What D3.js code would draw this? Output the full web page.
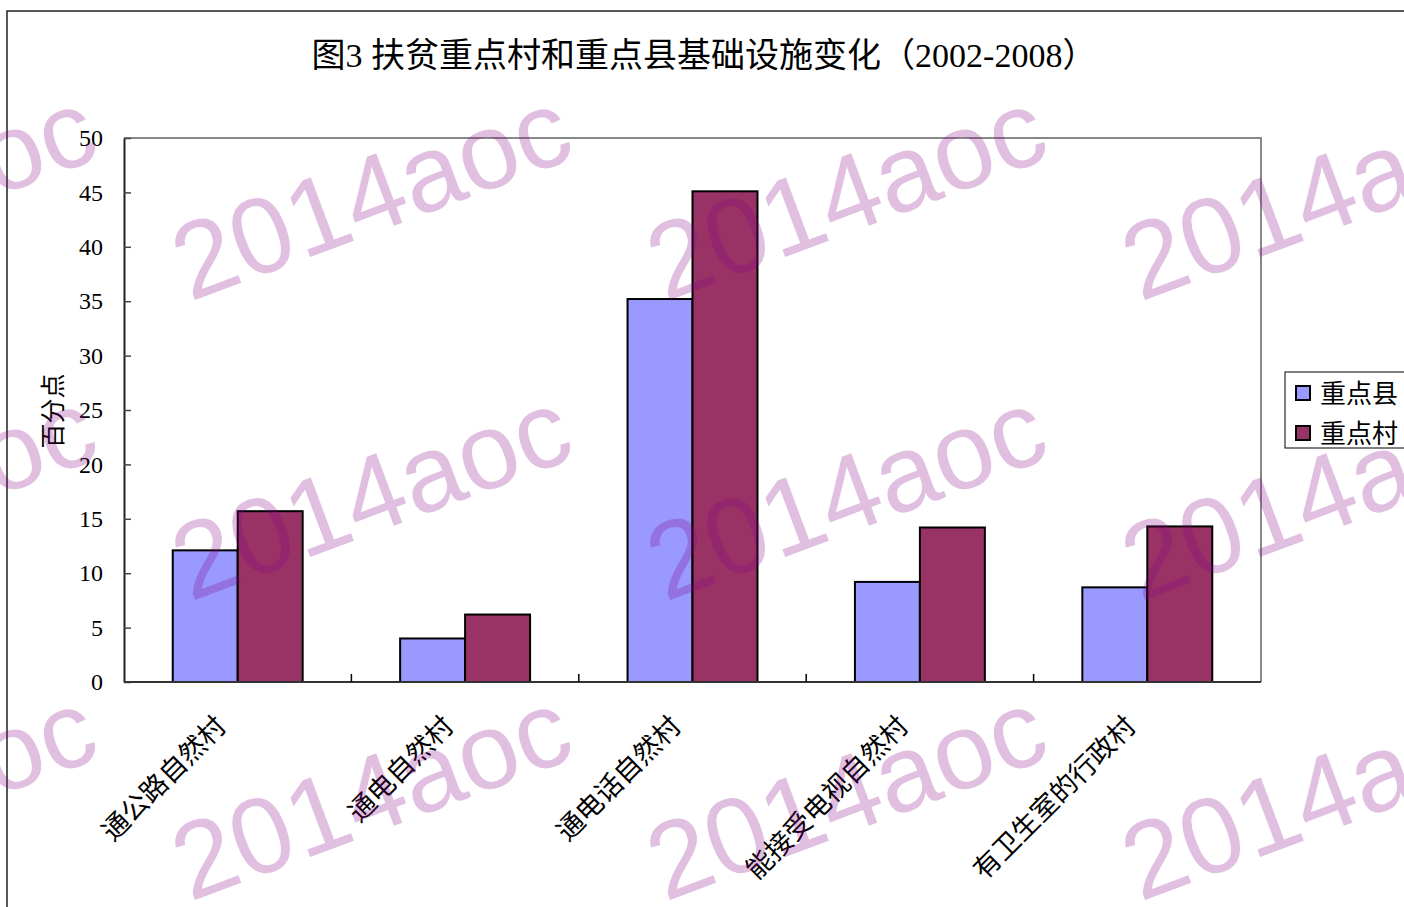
<!DOCTYPE html>
<html>
<head>
<meta charset="utf-8">
<script src="https://cdn.jsdelivr.net/npm/d3@7"></script>
<style>
  body { margin: 0; background: #fff; }
  svg { display: block; }
  text { font-family: "Liberation Serif", "Noto Sans CJK SC", serif; }
</style>
</head>
<body>
<svg id="chart"></svg>
<script>
const width = 1404;
const height = 907;
const svg = d3.select("#chart").attr("width", width).attr("height", height);

const title = "图3 扶贫重点村和重点县基础设施变化（2002-2008）";
const categories = ["通公路自然村", "通电自然村", "通电话自然村", "能接受电视自然村", "有卫生室的行政村"];
const seriesNames = ["重点县", "重点村"];
const countyValues = [12.1, 4.0, 35.2, 9.2, 8.7];
const villageValues = [15.7, 6.2, 45.1, 14.2, 14.3];
const yTicks = [0, 5, 10, 15, 20, 25, 30, 35, 40, 45, 50];
const colors = ["#9999FF", "#993366"];
const watermarkText = "2014aoc";

const plot = { left: 124, right: 1261, top: 138, bottom: 682 };

const x = d3.scaleBand().domain(categories).range([plot.left, plot.right]).paddingInner(0).paddingOuter(0);
const xs = d3.scaleBand().domain(seriesNames).range([0, x.bandwidth()]).paddingInner(0).paddingOuter(0.75);
const y = d3.scaleLinear().domain([0, 50]).range([plot.bottom, plot.top]);

// outer frame
svg.append("path").attr("d", `M7,${height} L7,11 L${width},11`).attr("fill", "none").attr("stroke", "#222").attr("stroke-width", 1.5);

// title
svg.append("text").attr("x", 704).attr("y", 67).attr("text-anchor", "middle").style("font-size", "34px").attr("fill", "#000").text(title);

// plot border (top/right grey)
svg.append("path").attr("d", `M${plot.left},${plot.top} L${plot.right},${plot.top} L${plot.right},${plot.bottom}`).attr("fill", "none").attr("stroke", "#888").attr("stroke-width", 2);

// bars
const rows = categories.map((c, i) => ({ cat: c, vals: [countyValues[i], villageValues[i]] }));
const groups = svg.selectAll(".grp").data(rows).enter().append("g").attr("class", "grp").attr("transform", d => `translate(${x(d.cat)},0)`);
groups.selectAll("rect").data(d => d.vals.map((v, j) => ({ name: seriesNames[j], v, j }))).enter().append("rect")
  .attr("x", d => xs(d.name)).attr("y", d => y(d.v)).attr("width", xs.bandwidth()).attr("height", d => y(0) - y(d.v))
  .attr("fill", d => colors[d.j]).attr("stroke", "#000").attr("stroke-width", 2);

// y axis
const yAxis = svg.append("g").attr("transform", `translate(${plot.left},0)`)
  .call(d3.axisLeft(y).tickValues(yTicks).tickSizeInner(-7).tickSizeOuter(0).tickPadding(21));
yAxis.select(".domain").attr("stroke", "#222").attr("stroke-width", 2);
yAxis.selectAll(".tick line").attr("stroke", "#444").attr("stroke-width", 1.5);
yAxis.selectAll(".tick text").style("font-size", "24px").attr("fill", "#000").attr("font-family", null);

// x axis
svg.append("line").attr("x1", plot.left).attr("x2", plot.right).attr("y1", plot.bottom).attr("y2", plot.bottom).attr("stroke", "#333").attr("stroke-width", 2);
svg.selectAll(".xtick").data(categories.slice(1)).enter().append("line").attr("class", "xtick")
  .attr("x1", d => x(d)).attr("x2", d => x(d)).attr("y1", plot.bottom).attr("y2", plot.bottom - 8).attr("stroke", "#000").attr("stroke-width", 1.5);
svg.selectAll(".xlabel").data(categories).enter().append("text").attr("class", "xlabel")
  .attr("transform", d => `translate(${x(d) + x.bandwidth() / 2 - 10},${plot.bottom + 46}) rotate(-45)`)
  .attr("text-anchor", "end").style("font-size", "27px").attr("fill", "#000").text(d => d);

// y label
svg.append("text").attr("transform", "translate(62,411) rotate(-90)").attr("text-anchor", "middle").style("font-size", "25px").attr("fill", "#000").text("百分点");

// legend
const legend = svg.append("g").attr("transform", "translate(1285,372)");
legend.append("rect").attr("x", 0).attr("y", 0).attr("width", 140).attr("height", 76).attr("fill", "#fff").attr("stroke", "#000").attr("stroke-width", 1);
legend.selectAll(".lsw").data(seriesNames).enter().append("rect").attr("class", "lsw")
  .attr("x", 11).attr("y", (d, i) => 14 + i * 40).attr("width", 14).attr("height", 14)
  .attr("fill", (d, i) => colors[i]).attr("stroke", "#000").attr("stroke-width", 2);
legend.selectAll(".ltx").data(seriesNames).enter().append("text").attr("class", "ltx")
  .attr("x", 35).attr("y", (d, i) => 31 + i * 40).style("font-size", "26px").attr("fill", "#000").text(d => d);

// watermark
const wmCols = [-285, 190, 665, 1140];
const wmRows = [0, 302, 602, 902];
const wm = [];
wmRows.forEach(r => wmCols.forEach(c => wm.push({ x: c, y: r })));
svg.append("g").selectAll("text").data(wm).enter().append("text")
  .attr("transform", d => `translate(${d.x},${d.y}) rotate(-20.5)`)
  .style("font-family", "'Liberation Sans', Arial, sans-serif").style("font-size", "108px")
  .attr("fill", "rgb(130,0,130)").attr("fill-opacity", 0.25).text(watermarkText);
</script>
</body>
</html>
